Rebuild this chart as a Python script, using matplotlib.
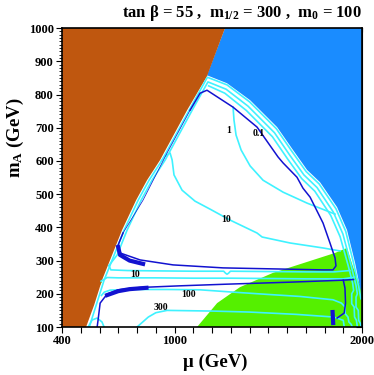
import matplotlib
matplotlib.use("Agg")
import matplotlib.pyplot as plt
from matplotlib.ticker import MultipleLocator, FixedLocator

plt.rcParams["font.family"] = ["Liberation Serif", "DejaVu Serif"]
plt.rcParams["font.weight"] = "bold"
plt.rcParams["mathtext.default"] = "regular"

BROWN = "#BF570F"
BLUE = "#1A8CFF"
GREEN = "#55F000"
CYAN = "#3FF2FF"
DARK = "#1212D0"

# excluded regions (mu, m_A in GeV)
brown_mu = [400, 400, 1269, 1173, 1067, 923, 853, 795, 720, 667, 613, 571, 528]
brown_ma = [100, 1000, 1000, 855, 753, 603, 542, 482, 392, 317, 241, 166, 100]

blue_mu = [1269, 2000, 2000, 1989, 1963, 1920, 1867, 1776, 1707, 1632, 1547, 1403, 1280, 1173]
blue_ma = [1000, 1000, 195, 220, 293, 392, 461, 536, 573, 633, 702, 783, 834, 858]

green_mu = [1120, 1227, 1349, 1525, 1707, 1856, 1920, 1952, 1979, 2000, 2000]
green_ma = [100, 172, 220, 263, 296, 323, 338, 281, 241, 211, 100]

green_small_mu = [600, 615, 612, 598, 596]
green_small_ma = [272, 262, 235, 222, 250]

# dark blue contours
db_loop_mu = [1083, 1136, 1173, 1312, 1440, 1552, 1579, 1653, 1685, 1723, 1792, 1829, 1856,
              1861, 1845, 1792, 1525, 1259, 992, 816, 709, 699, 725]
db_loop_ma = [753, 804, 813, 762, 702, 612, 594, 551, 518, 491, 413, 353, 308,
              284, 272, 272, 275, 278, 287, 302, 323, 347, 383]
db_left_mu = [725, 832, 960, 1083]
db_left_ma = [383, 482, 624, 753]
db_hook_mu = [699, 709, 760, 832]
db_hook_ma = [341, 317, 300, 290]

db_low_mu = [1955, 1900, 1616, 1280, 1029, 816, 700, 640, 603, 592, 587]
db_low_ma = [243, 241, 235, 229, 224, 219, 212, 199, 172, 121, 100]
db_low_thick_mu = [640, 700, 760, 850]
db_low_thick_ma = [196, 208, 214, 218]
db_right_mu = [1900, 1909, 1912, 1905, 1867]
db_right_ma = [241, 217, 172, 142, 127]
db_blob_mu = [1843, 1846]
db_blob_ma = [145, 112]

# cyan contours
c1_mu = [1312, 1317, 1328, 1355, 1403, 1472, 1579, 1707, 1856]
c1_ma = [762, 723, 678, 633, 585, 542, 506, 473, 440]

c10_up_mu = [930, 949, 976, 987, 997, 1040, 1109, 1189, 1296, 1440, 1467, 1616, 1792, 1883]
c10_up_ma = [600, 615, 624, 603, 558, 512, 479, 455, 422, 383, 371, 353, 338, 329]

e0_mu = [545, 582, 624, 678, 731, 806, 864, 934, 1078, 1175, 1280, 1400, 1543, 1627, 1702,
         1771, 1861, 1913, 1955, 1982, 1994]
e0_ma = [100, 166, 241, 317, 392, 482, 542, 603, 753, 852, 829, 778, 697, 628, 568,
         531, 456, 388, 292, 222, 185]

e1_mu = [650, 694, 747, 822, 880, 950, 1094, 1178, 1275, 1392, 1533, 1615, 1690, 1760, 1847,
         1898, 1940, 1968, 1975, 1968, 1968, 1980, 1982, 1992, 1995]
e1_ma = [285, 317, 392, 482, 542, 603, 753, 838, 816, 765, 685, 617, 558, 520, 446,
         380, 290, 225, 200, 190, 160, 150, 120, 110, 100]

e2_mu = [1182, 1268, 1383, 1522, 1603, 1678, 1748, 1833, 1883, 1925, 1950, 1955, 1945, 1945,
         1958, 1960, 1970, 1975]
e2_ma = [826, 804, 752, 673, 606, 547, 509, 436, 372, 287, 232, 210, 200, 170,
         160, 130, 120, 100]

h1_mu = [650, 660, 750, 900, 1100, 1262, 1272, 1280, 1288, 1298, 1500, 1700, 1850, 1935]
h1_ma = [285, 272, 270, 269, 268, 268, 262, 259, 262, 268, 267, 266, 266, 270]

h2_mu = [608, 640, 700, 900, 1100, 1300, 1500, 1700, 1900, 1960]
h2_ma = [238, 249, 248, 248, 247, 247, 246, 245, 245, 250]

c100_mu = [610, 625, 656, 760, 960, 1136, 1312, 1500, 1669, 1845, 1890, 1910, 1910, 1925,
           1930, 1942, 1948]
c100_ma = [195, 205, 211, 213, 213, 212, 205, 198, 192, 182, 172, 160, 140, 130,
           115, 108, 100]

c300_mu = [800, 860, 900, 960, 1200, 1400, 1650, 1850, 1900, 1905]
c300_ma = [100, 130, 143, 150, 148, 145, 138, 130, 120, 100]

arch_mu = [539, 560, 587, 613, 624]
arch_ma = [100, 121, 127, 115, 100]

labels = ["1", "0.1", "10", "10", "100", "300"]
label_mu = [1291, 1451, 1275, 789, 1077, 928]
label_ma = [693, 684, 425, 257, 199, 160]

fig = plt.figure(figsize=(3.74, 3.75), dpi=100)
ax = fig.add_axes([0.166, 0.128, 0.802, 0.797])

ax.fill(green_mu, green_ma, color=GREEN, lw=0)
ax.fill(green_small_mu, green_small_ma, color=GREEN, lw=0)
ax.fill(blue_mu, blue_ma, color=BLUE, lw=0)
ax.fill(brown_mu, brown_ma, color=BROWN, lw=0)

for xs, ys in [(c1_mu, c1_ma), (c10_up_mu, c10_up_ma), (e0_mu, e0_ma), (e1_mu, e1_ma),
               (e2_mu, e2_ma), (h1_mu, h1_ma), (h2_mu, h2_ma), (c100_mu, c100_ma),
               (c300_mu, c300_ma), (arch_mu, arch_ma)]:
    ax.plot(xs, ys, color=CYAN, lw=1.2, solid_joinstyle="round")

ax.plot(db_loop_mu, db_loop_ma, color=DARK, lw=1.1)
ax.plot(db_left_mu, db_left_ma, color=DARK, lw=0.5)
ax.plot(db_hook_mu, db_hook_ma, color=DARK, lw=3)
ax.plot(db_low_mu, db_low_ma, color=DARK, lw=1.1)
ax.plot(db_low_thick_mu, db_low_thick_ma, color=DARK, lw=3)
ax.plot(db_right_mu, db_right_ma, color=DARK, lw=1.1)
ax.plot(db_blob_mu, db_blob_ma, color=DARK, lw=3)

for text, x, y in zip(labels, label_mu, label_ma):
    ax.text(x, y, text, fontsize=7, fontweight="bold", ha="center", va="center")

ax.set_xlim(400, 2000)
ax.set_ylim(100, 1000)
ax.xaxis.set_major_locator(FixedLocator([400, 1000, 2000]))
ax.xaxis.set_minor_locator(MultipleLocator(100))
ax.yaxis.set_major_locator(MultipleLocator(100))
ax.yaxis.set_minor_locator(MultipleLocator(10))
ax.tick_params(which="both", direction="out", labelsize=9, pad=2)
ax.tick_params(axis="x", which="both", length=4, width=0.8)
ax.tick_params(axis="y", which="major", length=4, width=0.8)
ax.tick_params(axis="y", which="minor", length=2, width=0.6)
for label in ax.get_xticklabels() + ax.get_yticklabels():
    label.set_fontweight("bold")
for spine in ax.spines.values():
    spine.set_linewidth(1.2)

top = ax.secondary_xaxis("top")
top.xaxis.set_major_locator(MultipleLocator(100))
top.tick_params(direction="in", length=3, width=0.8, labeltop=False)
right = ax.secondary_yaxis("right")
right.yaxis.set_major_locator(MultipleLocator(100))
right.yaxis.set_minor_locator(MultipleLocator(10))
right.tick_params(which="major", direction="in", length=4, width=0.8, labelright=False)
right.tick_params(which="minor", direction="in", length=2, width=0.6)

fig.text(0.968, 0.965, r"tan $\beta$ = 55 ,  m$_{1/2}$ = 300 ,  m$_0$ = 100",
         ha="right", va="center", fontsize=12, fontweight="bold")
fig.text(0.04, 1 - 138 / 375, r"m$_A$ (GeV)", rotation=90, ha="center", va="center",
         fontsize=13.5, fontweight="bold")
fig.text(215 / 374, 1 - 362 / 375, "\u03bc (GeV)", ha="center", va="center",
         fontsize=13.5, fontweight="bold")

fig.savefig("out.png", dpi=100)
